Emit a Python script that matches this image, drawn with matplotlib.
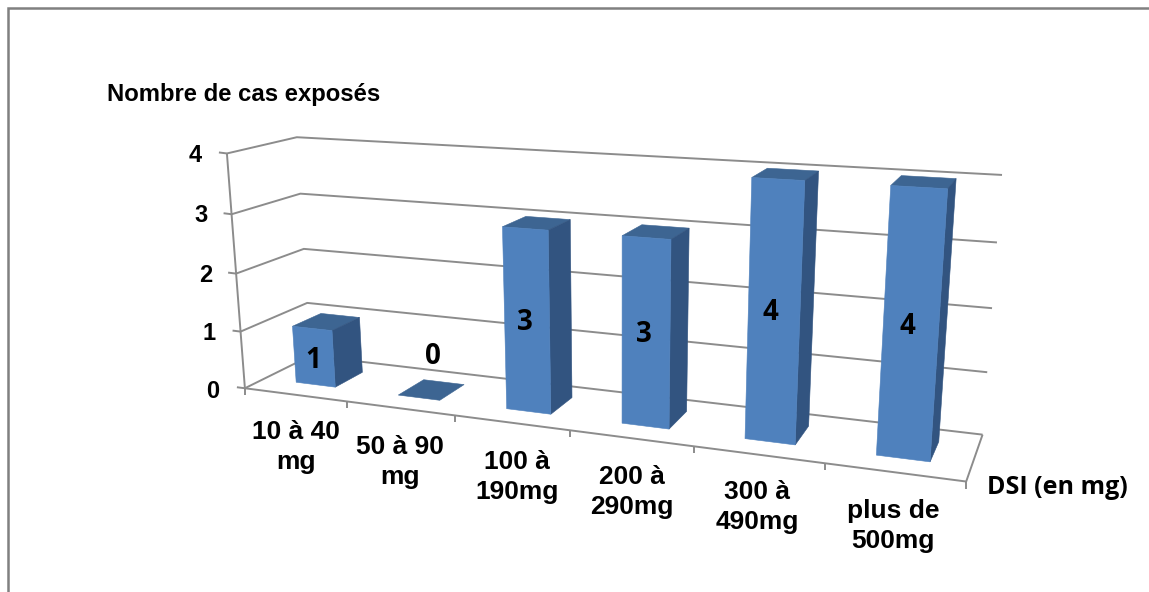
import numpy as np
import matplotlib
matplotlib.use("Agg")
import matplotlib.pyplot as plt
from matplotlib.patches import Polygon

categories = ["10 à 40\nmg", "50 à 90\nmg", "100 à\n190mg", "200 à\n290mg", "300 à\n490mg", "plus de\n500mg"]
values = [1, 0, 3, 3, 4, 4]
y_ticks = [0, 1, 2, 3, 4]
y_title = "Nombre de cas exposés"
x_title = "DSI (en mg)"

W, H = 1149, 592
fig = plt.figure(figsize=(W / 100, H / 100), dpi=100)
ax = fig.add_axes([0, 0, 1, 1])
ax.set_xlim(0, W)
ax.set_ylim(H, 0)
ax.axis("off")

# camera calibration: (category pos, depth, value) -> pixel
calib = [
    ((0, 0, 0), (245, 387)), ((0, 0, 4), (227, 153)),
    ((0, 1, 4), (297, 137)), ((0, 1, 3), (300, 194)),
    ((0, 1, 2), (304, 249)), ((0, 1, 1), (307, 303)),
    ((6, 1, 4), (1002, 175)), ((6, 1, 3), (997, 243)),
    ((6, 1, 2), (992, 308)), ((6, 1, 1), (987, 372)),
    ((6, 1, 0), (983, 434)), ((6, 0, 0), (967, 481)),
    ((1, 0, 0), (347, 402)), ((2, 0, 0), (455, 416)),
    ((3, 0, 0), (571, 431)), ((4, 0, 0), (693, 447)),
    ((5, 0, 0), (824, 463)),
]
A = []
for (u, d, v), (x, y) in calib:
    A.append([u, d, v, 1, 0, 0, 0, 0, -x * u, -x * d, -x * v, -x])
    A.append([0, 0, 0, 0, u, d, v, 1, -y * u, -y * d, -y * v, -y])
P = np.linalg.svd(np.array(A, float))[2][-1].reshape(3, 4)


def proj(u, d, v):
    q = P @ np.array([u, d, v, 1.0])
    return q[0] / q[2], q[1] / q[2]


GRID = "#8c8c8c"
LW = 1.4


def line(pts, **kw):
    xy = np.array(pts)
    ax.plot(xy[:, 0], xy[:, 1], color=GRID, lw=LW, solid_capstyle="butt", **kw)


# frame of the picture
ax.plot([8, 8, W], [H, 8, 8], color="#808080", lw=1.8, solid_joinstyle="miter")

# walls, floor
for v in y_ticks:
    line([proj(0, 0, v), proj(0, 1, v), proj(6, 1, v)])
    x0, y0 = proj(0, 0, v)
    line([(x0 - 8, y0 - 1), (x0, y0)])
line([proj(0, 0, 0), proj(0, 0, 4)])
line([proj(0, 0, 0), proj(6, 0, 0), proj(6, 1, 0)])
for u in range(7):
    x0, y0 = proj(u, 0, 0)
    line([(x0, y0), (x0, y0 + 7)])

# bars
FRONT, SIDE, TOP = "#4f81bd", "#325480", "#3d6592"
HALF_W, D0, D1, CENTER = 0.195, 0.29, 0.73, 0.513
for i, val in enumerate(values):
    u0, u1 = i + CENTER - HALF_W, i + CENTER + HALF_W
    faces = [
        ([(u0, D1, val), (u1, D1, val), (u1, D0, val), (u0, D0, val)], TOP),
    ]
    if val > 0:
        faces.append(([(u1, D0, 0), (u1, D1, 0), (u1, D1, val), (u1, D0, val)], SIDE))
        faces.append(([(u0, D0, 0), (u1, D0, 0), (u1, D0, val), (u0, D0, val)], FRONT))
    for pts, col in faces:
        ax.add_patch(Polygon([proj(*p) for p in pts], closed=True, facecolor=col,
                             edgecolor=col, lw=0.4, zorder=3))

# texts
sans = "Liberation Sans"
for v, (x, y) in zip(y_ticks, [(213, 391), (209, 333), (206, 275), (201, 215), (195, 155)]):
    ax.text(x, y, str(v), ha="center", va="center", family=sans, weight="bold",
            fontsize=17, color="black", zorder=5)
for c, (x, y) in zip(categories, [(296, 447), (400, 462), (517, 477), (632, 492), (757, 507), (893, 526)]):
    ax.text(x, y, c, ha="center", va="center", family=sans, weight="bold",
            fontsize=19, linespacing=1.3, color="black", zorder=5)
for val, (x, y) in zip(values, [(313, 361), (433, 356), (525, 322), (644, 335), (770, 312), (907, 326)]):
    ax.text(x, y, str(val), ha="center", va="center", family="Open Sans", weight="bold",
            fontsize=20, color="black", zorder=6)
ax.text(107, 95, y_title, ha="left", va="center", family=sans, weight="bold", fontsize=17.2, color="black")
ax.text(987, 487, x_title, ha="left", va="center", family="Open Sans", weight="bold", fontsize=18, color="black")

fig.savefig("out.png", dpi=100)
